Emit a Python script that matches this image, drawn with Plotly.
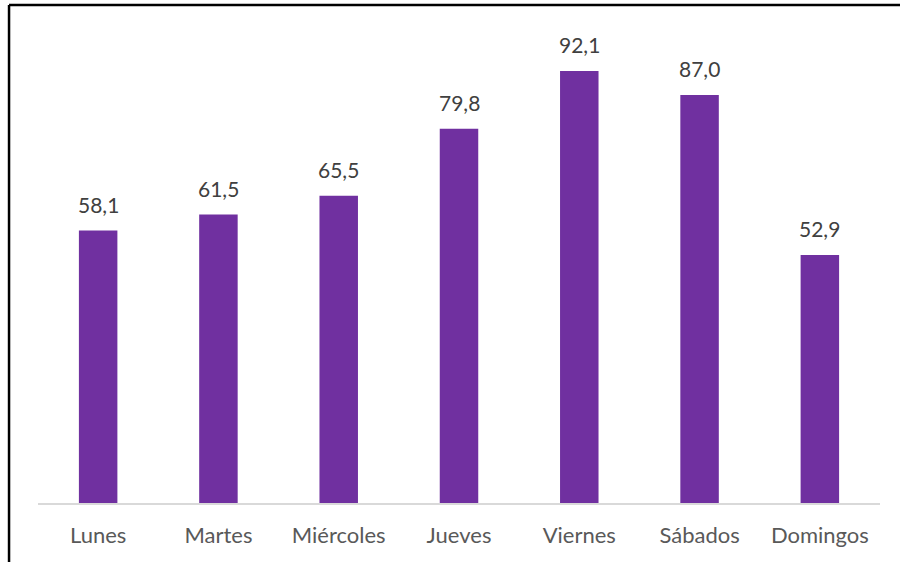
import plotly.graph_objects as go

dias = ["Lunes", "Martes", "Miércoles", "Jueves", "Viernes", "Sábados", "Domingos"]
valores = [58.1, 61.5, 65.5, 79.8, 92.1, 87.0, 52.9]

FONT = "Lato, Open Sans, sans-serif"

fig = go.Figure()
fig.add_trace(go.Bar(
    x=dias, y=valores,
    marker=dict(color="#7030A0", line=dict(width=0)),
    width=0.32,
    hoverinfo="skip",
))

for d, v in zip(dias, valores):
    fig.add_annotation(
        x=d, y=v, text=f"{v:.1f}".replace(".", ","),
        showarrow=False, yanchor="bottom", yshift=12,
        font=dict(family=FONT, size=21, color="#404040"),
    )

fig.update_layout(
    width=900, height=562,
    margin=dict(l=38, r=20, t=20, b=59),
    paper_bgcolor="white", plot_bgcolor="white",
    separators=",.",
    showlegend=False,
    font=dict(family=FONT, size=21, color="#595959"),
    xaxis=dict(showline=True, linecolor="#D9D9D9", linewidth=1.5, ticks="",
               showgrid=False, tickfont=dict(family=FONT, size=22, color="#595959"),
               ticklabelstandoff=12),
    yaxis=dict(range=[0, 103], visible=False, showgrid=False, zeroline=False),
    shapes=[
        dict(type="line", xref="paper", yref="paper", x0=-0.0344, x1=1.1, y0=1.031, y1=1.031,
             line=dict(color="black", width=2.5)),
        dict(type="line", xref="paper", yref="paper", x0=-0.0344, x1=-0.0344, y0=1.031, y1=-0.2,
             line=dict(color="black", width=2.5)),
    ],
)

fig.write_html("out.html", config={"displayModeBar": False},
               post_script="document.body.style.margin='0';")
